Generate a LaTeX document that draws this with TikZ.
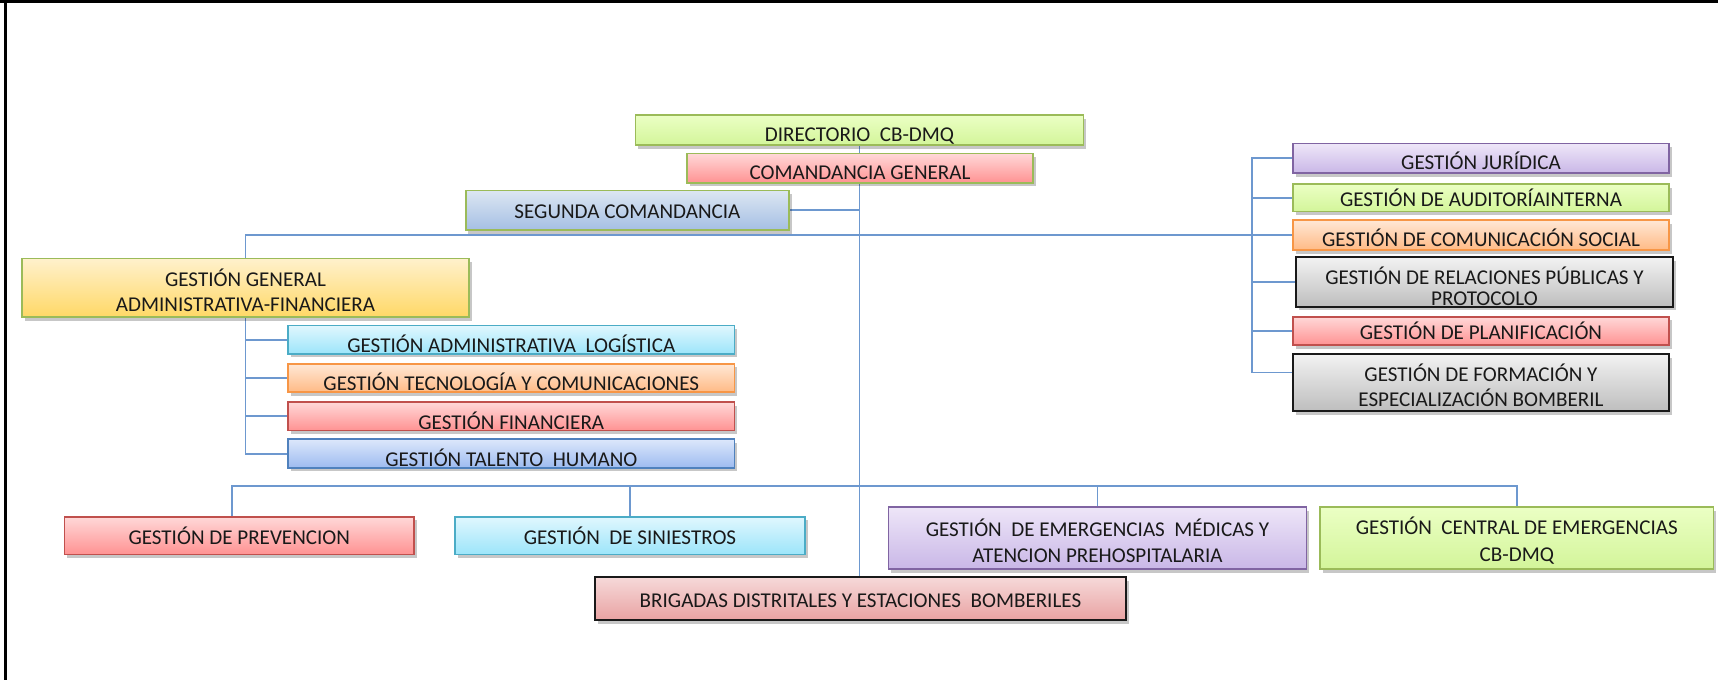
\documentclass[tikz,border=0pt]{standalone}
\usepackage{fontspec}
\setmainfont{Carlito}
\usetikzlibrary{shadows,backgrounds}

\definecolor{linkblue}{HTML}{6D98CF}
\definecolor{grtop}{HTML}{EBFFC4}
\definecolor{grbot}{HTML}{D3F59A}
\definecolor{grline}{HTML}{9BBB59}
\definecolor{rdtop}{HTML}{FFD8D8}
\definecolor{rdbot}{HTML}{FF9292}
\definecolor{rdline}{HTML}{C0504D}
\definecolor{sgtop}{HTML}{DCE6F2}
\definecolor{sgbot}{HTML}{A5BFE4}
\definecolor{yltop}{HTML}{FFF1CC}
\definecolor{ylbot}{HTML}{FFD866}
\definecolor{cytop}{HTML}{E0F7FE}
\definecolor{cybot}{HTML}{9CE5FA}
\definecolor{cyline}{HTML}{4BACC6}
\definecolor{ortop}{HTML}{FFE8D6}
\definecolor{orbot}{HTML}{FFBA85}
\definecolor{orline}{HTML}{F79646}
\definecolor{bltop}{HTML}{DCE7FB}
\definecolor{blbot}{HTML}{9DBBF0}
\definecolor{blline}{HTML}{4F81BD}
\definecolor{pptop}{HTML}{EEE6F8}
\definecolor{ppbot}{HTML}{C9B7E7}
\definecolor{ppline}{HTML}{8064A2}
\definecolor{gytop}{HTML}{F2F2F2}
\definecolor{gybot}{HTML}{BEBEBE}
\definecolor{bgtop}{HTML}{F6D9D9}
\definecolor{bgbot}{HTML}{E9A3A3}

\newcommand{\upstrut}[1]{\rule{0pt}{#1}}

\begin{document}
\begin{tikzpicture}[x=0.02cm, y=-0.02cm,
    box/.style = {
      draw,
      line width = 1pt,
      inner xsep = 2pt,
      inner ysep = 0pt,
      font = \fontsize{12}{14}\selectfont,
      text = black!90,
      drop shadow = {shadow xshift=1.5pt, shadow yshift=-2pt,
                     fill=black, opacity=0.22}
    },
    one/.style = {text height=9.7pt, text depth=0pt},
    low/.style = {text height=13.1pt, text depth=0pt},
    lower/.style = {text height=14.7pt, text depth=0pt},
    link/.style = {draw=linkblue, line width=1.1pt},
    cgreen/.style = {top color=grtop, bottom color=grbot, draw=grline},
    cred/.style = {top color=rdtop, bottom color=rdbot, draw=rdline},
    credg/.style = {top color=rdtop, bottom color=rdbot, draw=grline},
    cseg/.style = {top color=sgtop, bottom color=sgbot, draw=grline},
    cyel/.style = {top color=yltop, bottom color=ylbot, draw=grline},
    ccyan/.style = {top color=cytop, bottom color=cybot, draw=cyline},
    corange/.style = {top color=ortop, bottom color=orbot, draw=orline},
    cblue/.style = {top color=bltop, bottom color=blbot, draw=blline},
    cpurp/.style = {top color=pptop, bottom color=ppbot, draw=ppline},
    cgray/.style = {top color=gytop, bottom color=gybot, draw=black!90},
    cbrig/.style = {top color=bgtop, bottom color=bgbot, draw=black!90}
  ]
  \useasboundingbox (0,0) rectangle (1718,680);

  \draw[line width=1.7pt] (0,1.5) -- (1718,1.5);
  \draw[line width=1.4pt] (5.3,0) -- (5.3,680);

  \node[box, cgreen, low, minimum width=8.96cm, minimum height=0.6cm] (dir) at (859.5,130) {DIRECTORIO\ \ CB-DMQ};
  \node[box, credg, low, minimum width=6.92cm, minimum height=0.59cm] (cmd) at (860,168.2) {COMANDANCIA GENERAL};
  \node[box, cseg, one, minimum width=6.47cm, minimum height=0.79cm] (seg) at (627.4,210.3) {SEGUNDA COMANDANCIA};
  \node[box, cyel, align=center, minimum width=8.94cm, minimum height=1.17cm] (gaf) at (245.5,287.8) {\upstrut{13pt}GESTIÓN GENERAL\\ADMINISTRATIVA-FINANCIERA};

  \node[box, ccyan, lower, minimum width=8.93cm, minimum height=0.57cm] (adm) at (511.3,339.7) {GESTIÓN ADMINISTRATIVA\ \ LOGÍSTICA};
  \node[box, corange, lower, minimum width=8.93cm, minimum height=0.57cm] (tec) at (511.3,378) {GESTIÓN TECNOLOGÍA Y COMUNICACIONES};
  \node[box, cred, lower, minimum width=8.93cm, minimum height=0.57cm] (fin) at (511.3,416.3) {GESTIÓN FINANCIERA};
  \node[box, cblue, lower, minimum width=8.93cm, minimum height=0.57cm] (tal) at (511.3,453.6) {GESTIÓN TALENTO\ \ HUMANO};

  \node[box, cpurp, low, minimum width=7.52cm, minimum height=0.59cm] (jur) at (1481,158.3) {GESTIÓN JURÍDICA};
  \node[box, cgreen, one, minimum width=7.52cm, minimum height=0.55cm] (aud) at (1481,197.8) {GESTIÓN DE AUDITORÍAINTERNA};
  \node[box, corange, low, minimum width=7.52cm, minimum height=0.6cm] (csoc) at (1481,235) {GESTIÓN DE COMUNICACIÓN SOCIAL};
  \node[box, cgray, align=center, minimum width=7.54cm, minimum height=0.99cm] (rel) at (1484.5,282) {\upstrut{15pt}GESTIÓN DE RELACIONES PÚBLICAS Y\\[-2pt]PROTOCOLO};
  \node[box, cred, one, minimum width=7.52cm, minimum height=0.57cm] (pla) at (1481,330.9) {GESTIÓN DE PLANIFICACIÓN};
  \node[box, cgray, align=center, minimum width=7.52cm, minimum height=1.14cm] (frm) at (1481,382.5) {\upstrut{13pt}GESTIÓN DE FORMACIÓN Y\\ESPECIALIZACIÓN BOMBERIL};

  \node[box, cred, one, minimum width=6.99cm, minimum height=0.75cm] (prev) at (239.3,535.7) {GESTIÓN DE PREVENCION};
  \node[box, ccyan, one, minimum width=7cm, minimum height=0.75cm] (sin) at (630,535.7) {GESTIÓN\ \ DE SINIESTROS};
  \node[box, cpurp, align=center, minimum width=8.36cm, minimum height=1.24cm] (emg) at (1097.5,538) {\upstrut{13pt}GESTIÓN\ \ DE EMERGENCIAS\ \ MÉDICAS Y\\[1pt]ATENCION PREHOSPITALARIA};
  \node[box, cgreen, align=center, minimum width=7.87cm, minimum height=1.24cm] (cen) at (1516.8,538) {\upstrut{13pt}GESTIÓN\ \ CENTRAL DE EMERGENCIAS\\[1pt]CB-DMQ};
  \node[box, cbrig, one, minimum width=10.62cm, minimum height=0.86cm] (brg) at (860.5,598.5) {BRIGADAS DISTRITALES Y ESTACIONES\ \ BOMBERILES};

  \coordinate (rbus) at (1252.4,0);
  \coordinate (bbus) at (0,486);
  \coordinate (frmtick) at ([yshift=5.7pt]frm.west);

  \begin{scope}[on background layer]
    \draw[link] (dir.south) -- (dir.south |- brg.north);
    \draw[link] (seg.east) -- (seg.east -| dir.south);
    \draw[link] (gaf.north) |- (csoc.west);
    \draw[link] (jur.west) -- (rbus |- jur.west) -- (rbus |- frmtick) -- (frmtick);
    \foreach \n in {aud,rel,pla}
      \draw[link] (rbus |- \n.west) -- (\n.west);
    \draw[link] (gaf.south) |- (tal.west);
    \foreach \n in {adm,tec,fin}
      \draw[link] (gaf.south |- \n.west) -- (\n.west);
    \draw[link] ([xshift=-4pt]prev.north) -- ([xshift=-4pt]prev.north |- bbus) -- (cen.north |- bbus) -- (cen.north);
    \foreach \n in {sin,emg}
      \draw[link] (\n.north |- bbus) -- (\n.north);
  \end{scope}
\end{tikzpicture}
\end{document}
